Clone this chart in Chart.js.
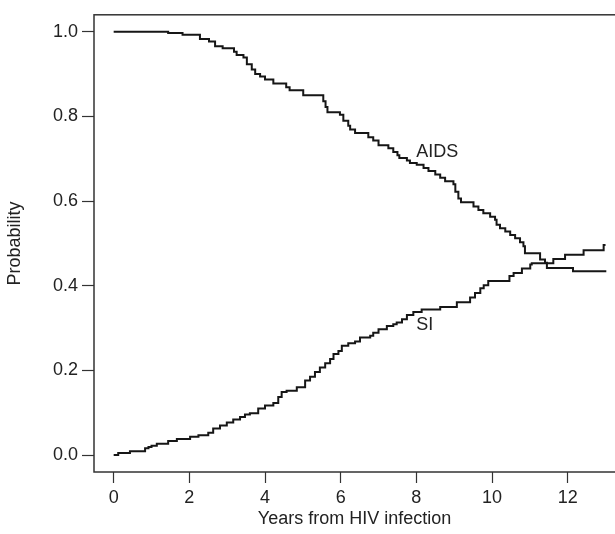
<!DOCTYPE html>
<html>
<head>
<meta charset="utf-8">
<title>AIDS and SI probability</title>
<script src="https://cdn.jsdelivr.net/npm/chart.js@4.4.1/dist/chart.umd.min.js"></script>
<style>
  html, body { margin: 0; padding: 0; background: #fff; overflow: hidden; }
</style>
</head>
<body>
<canvas id="km-chart" width="615" height="534"></canvas>
<script>
// step curves (years, probability)
const aidsYears = [0, 1.44, 1.82, 2.28, 2.52, 2.68, 2.88, 3.18, 3.25, 3.43, 3.52, 3.65, 3.74, 3.87, 4.00, 4.22, 4.56, 4.65, 5.01, 5.54, 5.60, 5.65, 5.98, 6.07, 6.20, 6.25, 6.38, 6.73, 6.86, 7.00, 7.26, 7.39, 7.50, 7.55, 7.75, 7.83, 8.01, 8.19, 8.32, 8.50, 8.63, 8.76, 8.98, 9.03, 9.11, 9.18, 9.51, 9.64, 9.77, 9.95, 10.08, 10.12, 10.21, 10.35, 10.48, 10.61, 10.74, 10.83, 10.87, 11.27, 11.40, 11.45, 12.14, 13.02];
const aidsProb  = [1.0, 0.997, 0.993, 0.983, 0.977, 0.966, 0.961, 0.953, 0.945, 0.939, 0.923, 0.911, 0.900, 0.894, 0.887, 0.878, 0.869, 0.862, 0.850, 0.836, 0.822, 0.810, 0.804, 0.790, 0.778, 0.769, 0.761, 0.751, 0.743, 0.732, 0.725, 0.716, 0.708, 0.702, 0.696, 0.690, 0.686, 0.678, 0.671, 0.663, 0.655, 0.647, 0.640, 0.622, 0.606, 0.597, 0.587, 0.579, 0.571, 0.563, 0.556, 0.544, 0.536, 0.528, 0.520, 0.512, 0.503, 0.493, 0.477, 0.462, 0.454, 0.442, 0.434, 0.434];

const siYears = [0, 0.12, 0.43, 0.83, 0.92, 1.00, 1.14, 1.44, 1.67, 2.02, 2.24, 2.50, 2.63, 2.81, 2.99, 3.16, 3.34, 3.47, 3.60, 3.82, 4.00, 4.22, 4.35, 4.44, 4.57, 4.84, 5.06, 5.19, 5.32, 5.45, 5.59, 5.72, 5.81, 5.94, 6.03, 6.20, 6.38, 6.51, 6.78, 6.86, 7.00, 7.22, 7.39, 7.48, 7.62, 7.75, 7.92, 8.14, 8.63, 9.07, 9.42, 9.55, 9.69, 9.78, 9.90, 10.46, 10.57, 10.79, 11.01, 11.05, 11.62, 11.93, 12.42, 12.95, 13.00];
const siProb  = [0, 0.005, 0.009, 0.016, 0.019, 0.022, 0.027, 0.033, 0.038, 0.043, 0.047, 0.053, 0.063, 0.070, 0.077, 0.084, 0.090, 0.096, 0.099, 0.110, 0.117, 0.123, 0.137, 0.149, 0.152, 0.160, 0.176, 0.185, 0.196, 0.207, 0.217, 0.227, 0.239, 0.246, 0.258, 0.264, 0.268, 0.278, 0.282, 0.289, 0.297, 0.305, 0.309, 0.313, 0.321, 0.331, 0.338, 0.344, 0.350, 0.361, 0.372, 0.383, 0.394, 0.401, 0.411, 0.423, 0.430, 0.441, 0.450, 0.453, 0.463, 0.473, 0.484, 0.496, 0.496];

const xTickValues = [0, 2, 4, 6, 8, 10, 12];
const yTickValues = [0, 0.2, 0.4, 0.6, 0.8, 1.0];

// curve labels: [text, year, probability]
const curveLabels = [["AIDS", 8, 0.716], ["SI", 8, 0.307]];

const fontFamily = "'Liberation Sans', Arial, Helvetica, sans-serif";
const ink = "#222";

function toPoints(xs, ys) {
    return xs.map(function (x, i) { return { x: x, y: ys[i] }; });
}

// frame round the plot area and the text labels next to the curves
const framePlugin = {
    id: "frame",
    afterDatasetsDraw: function (chart) {
        const ctx = chart.ctx;
        const area = chart.chartArea;
        const xs = chart.scales.x, ys = chart.scales.y;
        ctx.save();
        ctx.strokeStyle = "#333";
        ctx.lineWidth = 1.5;
        ctx.strokeRect(area.left, area.top, area.right - area.left + 5, area.bottom - area.top);
        ctx.fillStyle = ink;
        ctx.font = "18px " + fontFamily;
        ctx.textAlign = "left";
        ctx.textBaseline = "middle";
        curveLabels.forEach(function (l) {
            ctx.fillText(l[0], xs.getPixelForValue(l[1]), ys.getPixelForValue(l[2]));
        });
        ctx.restore();
    }
};

new Chart("km-chart", {
    type: "line",
    data: {
        datasets: [
            {
                label: "AIDS",
                data: toPoints(aidsYears, aidsProb),
                stepped: "before",
                borderColor: "#161616",
                borderWidth: 2,
                pointRadius: 0,
                fill: false
            },
            {
                label: "SI",
                data: toPoints(siYears, siProb),
                stepped: "before",
                borderColor: "#161616",
                borderWidth: 2,
                pointRadius: 0,
                fill: false
            }
        ]
    },
    options: {
        responsive: false,
        animation: false,
        layout: { padding: { top: 12, left: 0, right: 0, bottom: 0 } },
        plugins: {
            legend: { display: false },
            tooltip: { enabled: false }
        },
        scales: {
            x: {
                type: "linear",
                min: -0.52,
                max: 13.25,
                afterBuildTicks: function (s) { s.ticks = xTickValues.map(function (v) { return { value: v }; }); },
                afterFit: function (s) { s.height = 62; },
                ticks: {
                    color: ink,
                    padding: 4,
                    maxRotation: 0,
                    font: { family: fontFamily, size: 18 }
                },
                grid: { drawOnChartArea: false, tickLength: 11, color: "#333", tickWidth: 1.2 },
                border: { display: false },
                title: {
                    display: true,
                    text: "Years from HIV infection",
                    color: ink,
                    font: { family: fontFamily, size: 18 },
                    padding: { top: 0, bottom: 4 }
                }
            },
            y: {
                min: -0.04,
                max: 1.04,
                afterBuildTicks: function (s) { s.ticks = yTickValues.map(function (v) { return { value: v }; }); },
                afterFit: function (s) { s.width = 94; },
                ticks: {
                    color: ink,
                    padding: 4,
                    font: { family: fontFamily, size: 18 },
                    callback: function (v) { return Number(v).toFixed(1); }
                },
                grid: { drawOnChartArea: false, tickLength: 12, color: "#333", tickWidth: 1.2 },
                border: { display: false },
                title: {
                    display: true,
                    text: "Probability",
                    color: ink,
                    font: { family: fontFamily, size: 18 },
                    padding: { top: 4, bottom: 0 }
                }
            }
        }
    },
    plugins: [framePlugin]
});
</script>
</body>
</html>
